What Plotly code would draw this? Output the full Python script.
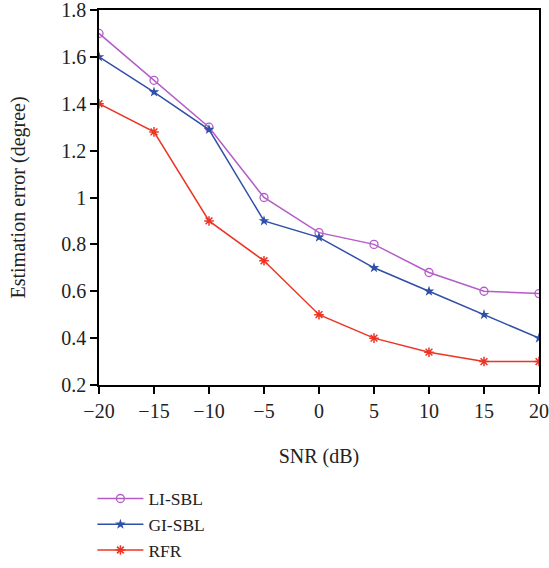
import plotly.graph_objects as go

snr = [-20, -15, -10, -5, 0, 5, 10, 15, 20]
li_sbl = [1.7, 1.5, 1.3, 1.0, 0.85, 0.8, 0.68, 0.6, 0.59]
gi_sbl = [1.6, 1.45, 1.29, 0.9, 0.83, 0.7, 0.6, 0.5, 0.4]
rfr = [1.4, 1.28, 0.9, 0.73, 0.5, 0.4, 0.34, 0.3, 0.3]

xticks = [-20, -15, -10, -5, 0, 5, 10, 15, 20]
yticks = [0.2, 0.4, 0.6, 0.8, 1.0, 1.2, 1.4, 1.6, 1.8]
ytext = ["0.2", "0.4", "0.6", "0.8", "1", "1.2", "1.4", "1.6", "1.8"]

font = "Liberation Serif"

fig = go.Figure()
fig.add_trace(go.Scatter(x=snr, y=li_sbl, name="LI-SBL", mode="lines+markers",
                         line=dict(color="#B45CC8", width=1.5),
                         marker=dict(symbol="circle-open", size=8, color="#B45CC8", line=dict(width=1.3))))
fig.add_trace(go.Scatter(x=snr, y=gi_sbl, name="GI-SBL", mode="lines+markers",
                         line=dict(color="#2F4FA8", width=1.5),
                         marker=dict(symbol="star", size=8, color="#2F4FA8")))
fig.add_trace(go.Scatter(x=snr, y=rfr, name="RFR", mode="lines+markers",
                         line=dict(color="#EC3424", width=1.5),
                         marker=dict(symbol="asterisk-open", size=8, color="#EC3424", line=dict(width=1.5, color="#EC3424"))))

fig.update_layout(
    width=549, height=568,
    margin=dict(l=99, r=10, t=10, b=183, autoexpand=False),
    paper_bgcolor="white", plot_bgcolor="white",
    font=dict(family=font, size=20, color="#222"),
    showlegend=True,
    legend=dict(x=-0.015, y=-0.255, xanchor="left", yanchor="top",
                font=dict(family=font, size=17.5, color="#222"),
                tracegroupgap=0, itemwidth=46, bgcolor="rgba(0,0,0,0)"),
    xaxis=dict(range=[-20, 20], tickvals=xticks, showline=True, mirror=True,
               linecolor="black", linewidth=1.5, ticks="outside", ticklen=7,
               tickcolor="black", tickwidth=1.5, showgrid=False, zeroline=False,
               automargin=False, ticklabeloverflow="allow",
               title=dict(text="SNR (dB)", standoff=28, font=dict(family=font, size=20))),
    yaxis=dict(range=[0.2, 1.8], tickvals=yticks, ticktext=ytext, showline=True, mirror=True,
               linecolor="black", linewidth=1.5, ticks="outside", ticklen=7,
               tickcolor="black", tickwidth=1.5, showgrid=False, zeroline=False,
               automargin=False, ticklabeloverflow="allow"),
    annotations=[dict(text="Estimation error (degree)", xref="paper", yref="paper",
                      x=0, y=0.5, xanchor="center", yanchor="middle", xshift=-81,
                      textangle=-90, showarrow=False,
                      font=dict(family=font, size=20, color="#222"))],
)

fig.write_html("out.html")
